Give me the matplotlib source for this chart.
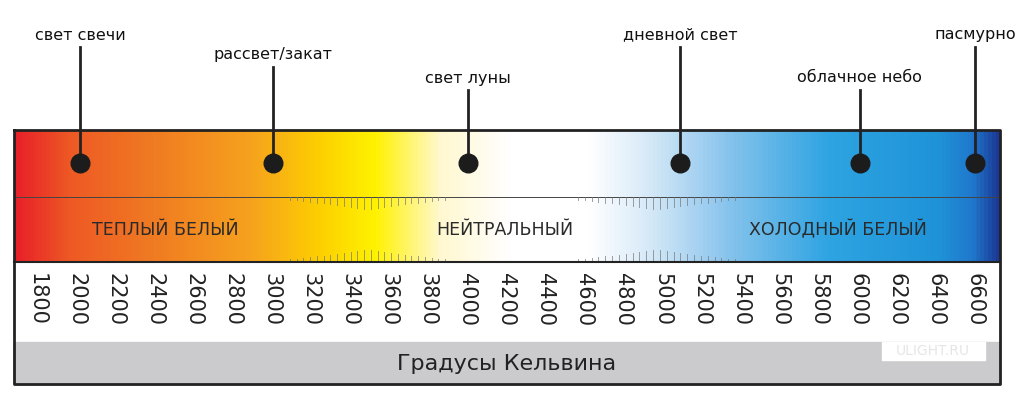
import matplotlib.pyplot as plt
import numpy as np
from matplotlib.colors import LinearSegmentedColormap

# --- data ---
kelvin_ticks = list(range(1800, 6601, 200))
marker_names = ["свет свечи", "рассвет/закат", "свет луны", "дневной свет", "облачное небо", "пасмурно"]
marker_kelvin = [2020, 3010, 4005, 5090, 6010, 6600]
marker_label_y = [35, 55, 78, 35, 78, 35]
zone_names = ["ТЕПЛЫЙ БЕЛЫЙ", "НЕЙТРАЛЬНЫЙ", "ХОЛОДНЫЙ БЕЛЫЙ"]
zone_kelvin = [2455, 4195, 5900]

PX = 0.1954  # px per kelvin
K0 = 1800 - 37 / PX
K1 = 1800 + (1024 - 37) / PX
def k(px):
    return K0 + px / PX

fig = plt.figure(figsize=(10.24, 4.0), dpi=100)
ax = fig.add_axes([0, 0, 1, 1])
ax.set_xlim(K0, K1)
ax.set_ylim(400, 0)
ax.axis("off")

# gradient band
stops = [(14, "#e8202a"), (70, "#ee5a24"), (150, "#f07a22"), (250, "#f6a21e"),
         (320, "#fdd000"), (375, "#fff200"), (440, "#fff8d0"), (510, "#ffffff"),
         (590, "#ffffff"), (650, "#d6e9f8"), (730, "#86c3ec"), (830, "#2ea4e2"),
         (940, "#1f93d8"), (975, "#2078cc"), (1000, "#1b3a96")]
pos = [(p - 14) / (1000 - 14) for p, _ in stops]
cmap = LinearSegmentedColormap.from_list("cct", list(zip(pos, [c for _, c in stops])))
grad = np.linspace(0, 1, 1000).reshape(1, -1)
ax.imshow(grad, cmap=cmap, aspect="auto", extent=(k(14), k(1000), 262, 130), zorder=1)

# middle line
ax.plot([k(14), k(1000)], [197, 197], color="#444444", lw=0.7, zorder=2)

# decorative hatch ticks
for lo, hi in [(k(290), k(445)), (k(578), k(735))]:
    xs = np.linspace(lo, hi, 24)
    c = (lo + hi) / 2
    for x in xs:
        L = 3 + 9 * (1 - abs(x - c) / ((hi - lo) / 2)) ** 1.2
        ax.plot([x, x], [197, 197 + L], color="#777777", lw=0.7, alpha=0.7, zorder=2)
        ax.plot([x, x], [262, 262 - L], color="#777777", lw=0.7, alpha=0.7, zorder=2)

# white tick band & gray band
ax.fill_between([k(14), k(1000)], 262, 342, color="white", zorder=1)
ax.fill_between([k(14), k(1000)], 342, 384, color="#cbcbcd", zorder=1)
ax.plot([k(14), k(1000)], [262, 262], color="#222222", lw=1.5, zorder=3)
ax.plot([k(14), k(1000), k(1000), k(14), k(14)], [130, 130, 384, 384, 130],
        color="#222222", lw=2, zorder=4)

# watermark
ax.fill_between([k(882), k(985)], 342, 360, color="white", zorder=2)
ax.text(k(933), 351, "ULIGHT.RU", ha="center", va="center", fontsize=10,
        color="#e6e6e6", zorder=3)

for t in kelvin_ticks:
    ax.text(t, 273, str(t), rotation=270, ha="center", va="top", fontsize=15,
            color="#222222", family="DejaVu Sans", zorder=3)

for name, x in zip(zone_names, zone_kelvin):
    ax.text(x, 230, name, ha="center", va="center", fontsize=12.5, color="#2a2a2a", zorder=3)

for name, x, y in zip(marker_names, marker_kelvin, marker_label_y):
    ax.text(x, y, name, ha="center", va="center", fontsize=11.5, color="#111111")
    ax.plot([x, x], [y + 12, 163], color="#222222", lw=2, zorder=5)
    ax.scatter([x], [163], s=180, color="#1c1c1c", zorder=6)

ax.text(k(507), 364, "Градусы Кельвина", ha="center", va="center", fontsize=16,
        color="#222222", zorder=3)

fig.savefig("out.png", dpi=100)
